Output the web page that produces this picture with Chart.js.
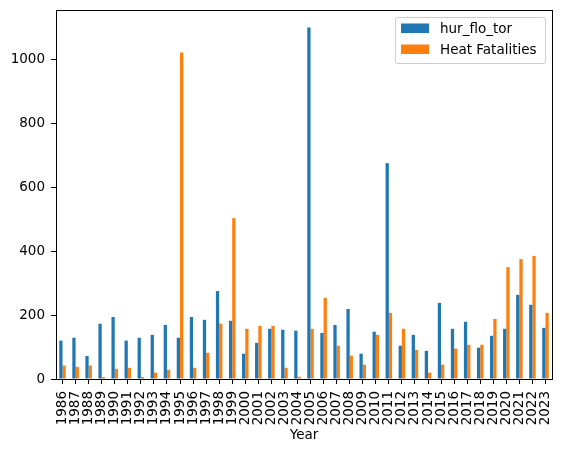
<!DOCTYPE html>
<html>
<head>
<meta charset="utf-8">
<script src="https://cdn.jsdelivr.net/npm/chart.js@4.4.1/dist/chart.umd.min.js"></script>
<style>
  body { margin: 0; background: #fff; }
  #chart { display: block; }
</style>
</head>
<body>
<canvas id="chart" width="561" height="454"></canvas>
<script>
const years = ['1986', '1987', '1988', '1989', '1990', '1991', '1992', '1993', '1994', '1995',
    '1996', '1997', '1998', '1999', '2000', '2001', '2002', '2003', '2004', '2005',
    '2006', '2007', '2008', '2009', '2010', '2011', '2012', '2013', '2014', '2015',
    '2016', '2017', '2018', '2019', '2020', '2021', '2022', '2023'];

const hurFloTor = [120, 129, 72, 173, 194, 120, 129, 138, 169, 129,
    194, 185, 275, 182, 79, 113, 157, 154, 151, 1099,
    144, 169, 219, 79, 148, 675, 104, 138, 88, 238,
    157, 179, 98, 135, 157, 263, 232, 160];

const heatFatalities = [42, 38, 42, 6, 32, 35, 6, 20, 29, 1021,
    35, 82, 173, 503, 157, 166, 166, 35, 7, 157,
    254, 104, 73, 45, 138, 207, 157, 91, 20, 45,
    95, 107, 107, 188, 350, 375, 385, 207];

const yTicks = [0, 200, 400, 600, 800, 1000];
const yMax = 1154;

const font = { family: 'DejaVu Sans', size: 13.5 };

// box around the plot area plus a matplotlib-like legend in the top right
const framePlugin = {
    id: 'frame',
    afterDraw(chart) {
        const { ctx, chartArea: a } = chart;
        ctx.save();
        ctx.strokeStyle = '#000';
        ctx.lineWidth = 1;
        ctx.strokeRect(a.left + 0.5, a.top + 0.5, a.right - a.left, a.bottom - a.top);

        const sets = chart.data.datasets;
        const boxW = 150, boxH = 46;
        const bx = a.right - 7 - boxW, by = a.top + 7;
        ctx.fillStyle = 'rgba(255,255,255,0.8)';
        ctx.strokeStyle = '#cccccc';
        ctx.beginPath();
        ctx.roundRect(bx + 0.5, by + 0.5, boxW, boxH, 2);
        ctx.fill();
        ctx.stroke();
        ctx.font = '13.5px "DejaVu Sans"';
        ctx.textBaseline = 'middle';
        sets.forEach((ds, i) => {
            const rowY = by + 11.5 + i * 21;
            ctx.fillStyle = ds.backgroundColor;
            ctx.fillRect(bx + 6, rowY - 5, 28, 9.5);
            ctx.fillStyle = '#000';
            ctx.fillText(ds.label, bx + 45, rowY + 0.5);
        });
        ctx.restore();
    }
};

new Chart(document.getElementById('chart'), {
    type: 'bar',
    data: {
        labels: years,
        datasets: [
            { label: 'hur_flo_tor', data: hurFloTor, backgroundColor: '#1f77b4' },
            { label: 'Heat Fatalities', data: heatFatalities, backgroundColor: '#ff7f0e' }
        ]
    },
    options: {
        responsive: false,
        animation: false,
        categoryPercentage: 0.5,
        barPercentage: 1.0,
        layout: { padding: { top: 10, right: 9, left: 0, bottom: 10 } },
        plugins: {
            legend: { display: false },
            tooltip: { enabled: false }
        },
        scales: {
            x: {
                grid: { display: true, drawOnChartArea: false, offset: false, tickLength: 5, color: '#000' },
                border: { display: true, color: '#000' },
                ticks: { color: '#000', font: font, minRotation: 90, maxRotation: 90, autoSkip: false, padding: 7 },
                title: { display: true, text: 'Year', color: '#000', font: font, padding: { top: 2, bottom: 0 } },
                afterFit(scale) {
                    scale.height = 65;
                    scale.paddingLeft = 0;
                    scale.paddingRight = 0;
                }
            },
            y: {
                min: 0,
                max: yMax,
                grid: { display: true, drawOnChartArea: false, tickLength: 5, color: '#000' },
                border: { display: true, color: '#000' },
                afterBuildTicks(scale) { scale.ticks = yTicks.map(v => ({ value: v })); },
                ticks: { color: '#000', font: font, padding: 6, callback: v => String(v) },
                afterFit(scale) {
                    scale.width = 56;
                    scale.paddingTop = 0;
                    scale.paddingBottom = 0;
                }
            }
        }
    },
    plugins: [framePlugin]
});
</script>
</body>
</html>
